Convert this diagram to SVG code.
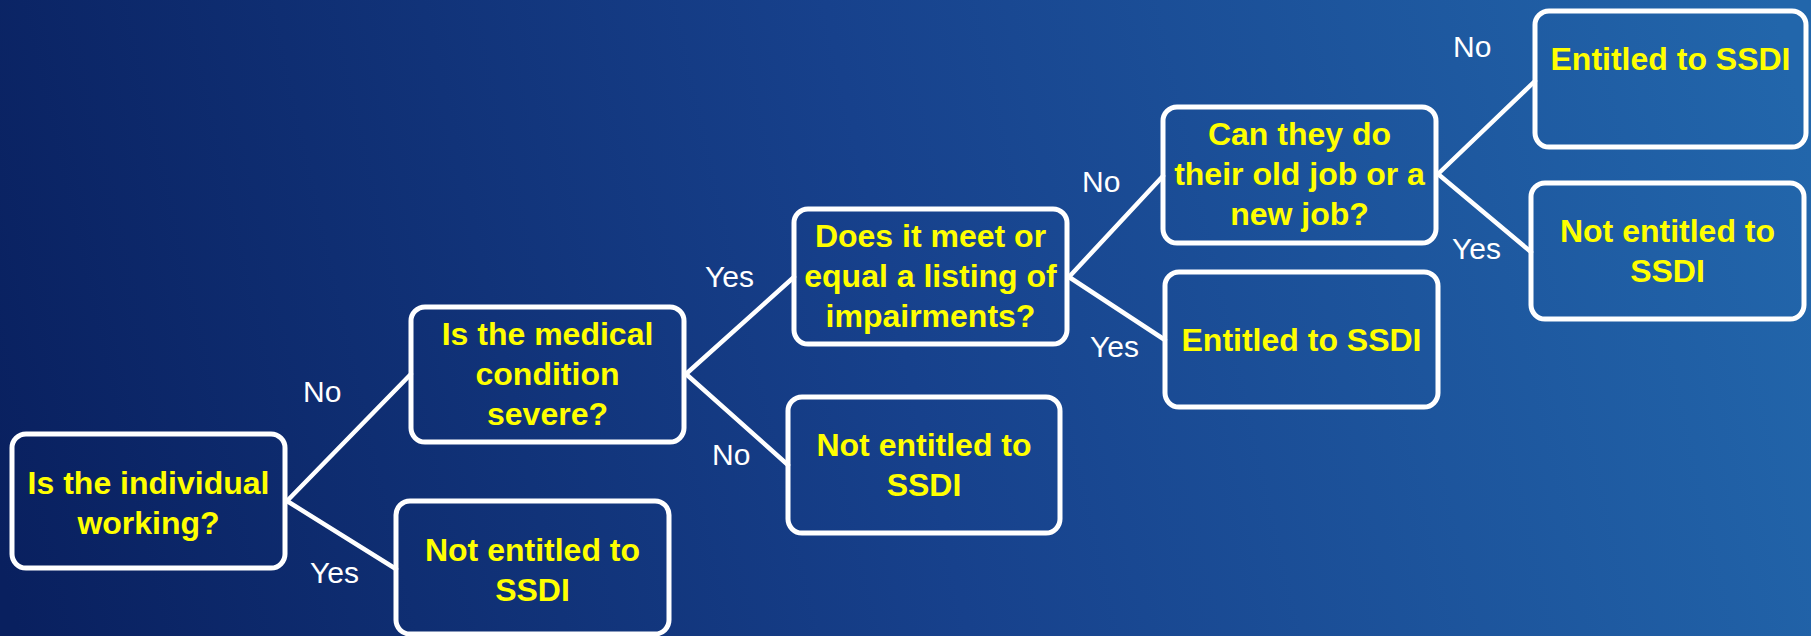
<svg xmlns="http://www.w3.org/2000/svg" width="1811" height="636" viewBox="0 0 1811 636">
<defs>
<linearGradient id="bg" gradientUnits="userSpaceOnUse" x1="0" y1="560" x2="1811" y2="150">
<stop offset="0" stop-color="#09205f"/>
<stop offset="0.5" stop-color="#17418c"/>
<stop offset="1" stop-color="#2266ab"/>
</linearGradient>
<style>
.box{fill:none;stroke:#ffffff;stroke-width:5;}
.t{font-family:"Liberation Sans",Arial,sans-serif;font-weight:bold;font-size:32px;fill:#ffff00;text-anchor:middle;}
.lbl{font-family:"Liberation Sans",Arial,sans-serif;font-size:30px;fill:#ffffff;}
.con line{stroke:#ffffff;stroke-width:4.5;stroke-linecap:round;}
</style>
</defs>
<rect x="0" y="0" width="1811" height="636" fill="url(#bg)"/>
<g id="connectors" class="con">
<line x1="287" y1="501" x2="411" y2="374"/>
<line x1="287" y1="501" x2="396" y2="569"/>
<line x1="686" y1="374" x2="794" y2="277"/>
<line x1="686" y1="374" x2="788" y2="465"/>
<line x1="1069" y1="277" x2="1163" y2="176"/>
<line x1="1069" y1="277" x2="1165" y2="340"/>
<line x1="1438" y1="174" x2="1535" y2="81"/>
<line x1="1438" y1="174" x2="1531" y2="252"/>
</g>
<g id="labels">
<text class="lbl" x="303" y="402">No</text>
<text class="lbl" x="310" y="583">Yes</text>
<text class="lbl" x="705" y="287">Yes</text>
<text class="lbl" x="712" y="465">No</text>
<text class="lbl" x="1082" y="192">No</text>
<text class="lbl" x="1090" y="357">Yes</text>
<text class="lbl" x="1453" y="57">No</text>
<text class="lbl" x="1452" y="259">Yes</text>
</g>
<g id="n1">
<rect class="box" x="12" y="434" width="273" height="134" rx="14"/>
<text class="t" x="148.5" y="494">Is the individual</text>
<text class="t" x="148.5" y="534">working?</text>
</g>
<g id="n2">
<rect class="box" x="396" y="501" width="273" height="133" rx="14"/>
<text class="t" x="532.5" y="561">Not entitled to</text>
<text class="t" x="532.5" y="601">SSDI</text>
</g>
<g id="n3">
<rect class="box" x="411" y="307" width="273" height="135" rx="14"/>
<text class="t" x="547.5" y="345">Is the medical</text>
<text class="t" x="547.5" y="385">condition</text>
<text class="t" x="547.5" y="425">severe?</text>
</g>
<g id="n4">
<rect class="box" x="794" y="209" width="273" height="135" rx="14"/>
<text class="t" x="930.5" y="247">Does it meet or</text>
<text class="t" x="930.5" y="287">equal a listing of</text>
<text class="t" x="930.5" y="327">impairments?</text>
</g>
<g id="n5">
<rect class="box" x="788" y="397" width="272" height="136" rx="14"/>
<text class="t" x="924" y="456">Not entitled to</text>
<text class="t" x="924" y="496">SSDI</text>
</g>
<g id="n6">
<rect class="box" x="1163" y="107" width="273" height="136" rx="14"/>
<text class="t" x="1299.5" y="145">Can they do</text>
<text class="t" x="1299.5" y="185">their old job or a</text>
<text class="t" x="1299.5" y="225">new job?</text>
</g>
<g id="n7">
<rect class="box" x="1165" y="272" width="273" height="135" rx="14"/>
<text class="t" x="1301.5" y="351">Entitled to SSDI</text>
</g>
<g id="n8">
<rect class="box" x="1535" y="11" width="271" height="136" rx="14"/>
<text class="t" x="1670.5" y="70">Entitled to SSDI</text>
</g>
<g id="n9">
<rect class="box" x="1531" y="183" width="273" height="136" rx="14"/>
<text class="t" x="1667.5" y="242">Not entitled to</text>
<text class="t" x="1667.5" y="282">SSDI</text>
</g>
</svg>
